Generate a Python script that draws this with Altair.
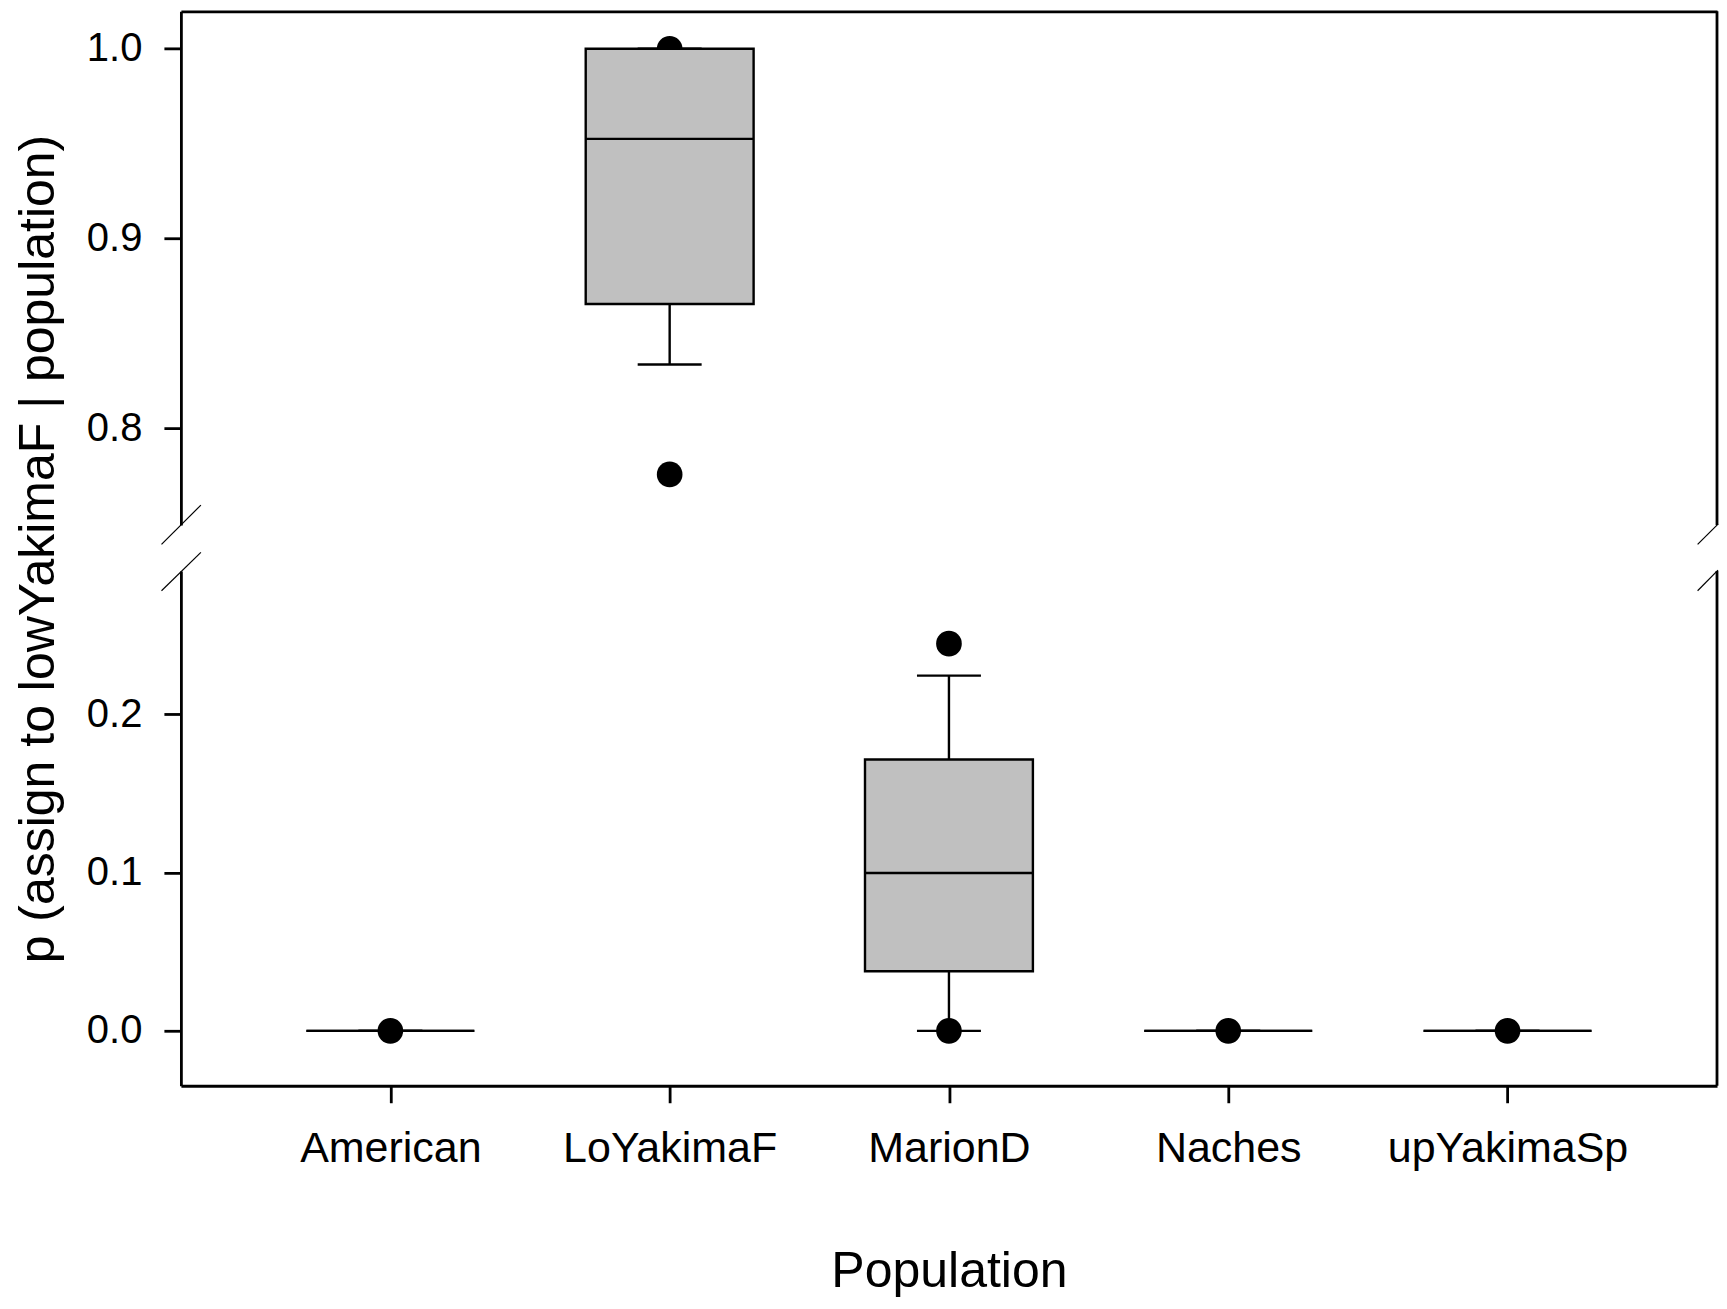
import altair as alt
import pandas as pd

# ---- data ----
populations = ["American", "LoYakimaF", "MarionD", "Naches", "upYakimaSp"]
q1 = [0.0, 0.8655, 0.0376, 0.0, 0.0]
median = [0.0, 0.9525, 0.0997, 0.0, 0.0]
q3 = [0.0, 1.0, 0.1714, 0.0, 0.0]
whisker_low = [0.0, 0.8336, 0.0, 0.0, 0.0]
whisker_high = [0.0, 1.0, 0.2244, 0.0, 0.0]

outlier_pop = ["American", "LoYakimaF", "LoYakimaF", "MarionD", "MarionD", "Naches", "upYakimaSp"]
outlier_val = [0.0, 1.0, 0.7757, 0.2446, 0.0, 0.0, 0.0]

top_ticks = [0.8, 0.9, 1.0]
bottom_ticks = [0.0, 0.1, 0.2]
top_domain = [0.749, 1.0197]
bottom_domain = [-0.0347, 0.2905]

y_title = "p (assign to lowYakimaF | population)"
x_title = "Population"

# ---- layout ----
W = 1537
H_TOP = 514
H_BOT = 515
GAP = 46
FONT = "Liberation Sans"
LINE = 2.4
FRAME = 2.8

box_df = pd.DataFrame({"pop": populations, "q1": q1, "median": median, "q3": q3,
                       "lo": whisker_low, "hi": whisker_high})
out_df = pd.DataFrame({"pop": outlier_pop, "val": outlier_val})
one = alt.Data(values=[{"a": 0}])


def panel(domain, ticks, height, is_top):
    xscale = alt.Scale(type="point", domain=populations, padding=0.75)
    if is_top:
        xaxis = alt.Axis(orient="top", labels=False, ticks=False, title=None,
                         domain=True, domainColor="black", domainWidth=FRAME, grid=False)
        yaxis = alt.Axis(values=ticks, format=".1f", labelFontSize=40, labelPadding=22,
                         tickSize=17, tickWidth=FRAME, tickColor="black",
                         domainColor="black", domainWidth=FRAME, grid=False,
                         labelColor="black", title=y_title, titleFontSize=50,
                         titleFontWeight="normal", titleColor="black",
                         titleAngle=270, titleAlign="center", titleBaseline="alphabetic",
                         titleX=-127, titleY=(H_TOP + GAP + H_BOT) / 2)
    else:
        xaxis = alt.Axis(orient="bottom", labelAngle=0, labelFontSize=43, labelPadding=25,
                         labelLimit=0,
                         tickSize=17, tickWidth=FRAME, tickColor="black",
                         domainColor="black", domainWidth=FRAME, grid=False,
                         labelColor="black", title=x_title, titleFontSize=50,
                         titleFontWeight="normal", titleColor="black",
                         titleY=201, titleBaseline="alphabetic")
        yaxis = alt.Axis(values=ticks, format=".1f", labelFontSize=40, labelPadding=22,
                         tickSize=17, tickWidth=FRAME, tickColor="black",
                         domainColor="black", domainWidth=FRAME, grid=False,
                         labelColor="black", title=None)
    yscale = alt.Scale(domain=domain, nice=False, zero=False)
    x = alt.X("pop:N", scale=xscale, axis=xaxis)

    def Y(f):
        return alt.Y(f"{f}:Q", scale=yscale, axis=yaxis)

    pts = alt.Chart(out_df).mark_circle(size=660, color="black", opacity=1, clip=True).encode(
        x=x, y=Y("val"))
    wh_up = alt.Chart(box_df).mark_rule(color="black", strokeWidth=LINE, clip=True).encode(
        x=x, y=Y("q3"), y2="hi:Q")
    wh_lo = alt.Chart(box_df).mark_rule(color="black", strokeWidth=LINE, clip=True).encode(
        x=x, y=Y("q1"), y2="lo:Q")
    box = alt.Chart(box_df).mark_bar(size=168, color="#c0c0c0", stroke="black",
                                     strokeWidth=LINE, clip=True).encode(
        x=x, y=Y("q1"), y2="q3:Q")
    med = alt.Chart(box_df).mark_tick(size=168, thickness=LINE, color="black", opacity=1,
                                      orient="horizontal", clip=True).encode(x=x, y=Y("median"))
    cap_hi = alt.Chart(box_df).mark_tick(size=64, thickness=LINE, color="black", opacity=1,
                                         orient="horizontal", clip=True).encode(x=x, y=Y("hi"))
    cap_lo = alt.Chart(box_df).mark_tick(size=64, thickness=LINE, color="black", opacity=1,
                                         orient="horizontal", clip=True).encode(x=x, y=Y("lo"))

    right = alt.Chart(one).mark_rule(color="black", strokeWidth=FRAME).encode(
        x=alt.value(W), y=alt.value(0), y2=alt.value(height))
    if is_top:
        yb = height
        s_left = alt.Chart(one).mark_rule(color="black", strokeWidth=1.2).encode(
            x=alt.value(-19.4), x2=alt.value(20), y=alt.value(yb + 19.3), y2=alt.value(yb - 20))
        s_right = alt.Chart(one).mark_rule(color="black", strokeWidth=1.2).encode(
            x=alt.value(W - 19.4), x2=alt.value(W + 1), y=alt.value(yb + 19.3), y2=alt.value(yb - 1))
    else:
        s_left = alt.Chart(one).mark_rule(color="black", strokeWidth=1.2).encode(
            x=alt.value(-19.4), x2=alt.value(20), y=alt.value(19.7), y2=alt.value(-18.7))
        s_right = alt.Chart(one).mark_rule(color="black", strokeWidth=1.2).encode(
            x=alt.value(W - 19.4), x2=alt.value(W + 1), y=alt.value(19.7), y2=alt.value(-1))

    return alt.layer(pts, wh_up, wh_lo, box, med, cap_hi, cap_lo, right, s_left, s_right).properties(
        width=W, height=height)


top = panel(top_domain, top_ticks, H_TOP, True)
bottom = panel(bottom_domain, bottom_ticks, H_BOT, False)

chart = alt.vconcat(top, bottom, spacing=GAP, bounds="flush").properties(
    padding={"left": 5, "top": 1, "right": 0, "bottom": 0}
).configure(font=FONT).configure_view(strokeWidth=0).configure_axis(
    labelFont=FONT, titleFont=FONT)

chart.save("out.html", embed_options={"renderer": "svg", "actions": False})
